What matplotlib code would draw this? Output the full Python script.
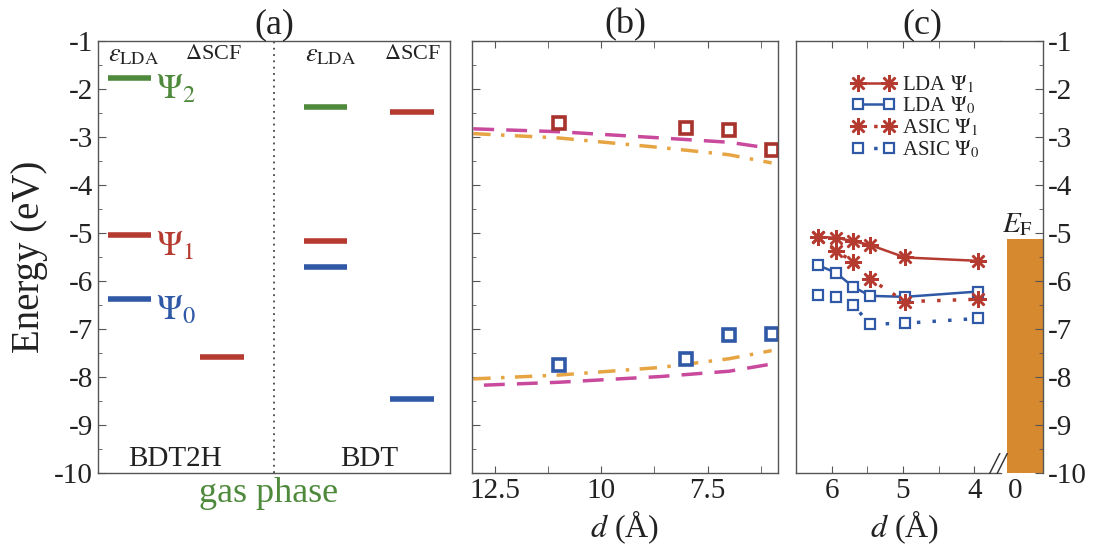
import numpy as np
import matplotlib
matplotlib.use("Agg")
import matplotlib.pyplot as plt
from matplotlib.ticker import MultipleLocator, FixedLocator, FuncFormatter

plt.rcParams['font.family'] = ['Liberation Serif', 'DejaVu Serif']
plt.rcParams['mathtext.fontset'] = 'stix'
plt.rcParams['axes.unicode_minus'] = False

# panel (a): gas phase levels, column 0/1 = BDT2H eps_LDA / dSCF, 2/3 = BDT eps_LDA / dSCF
level_col = [0, 0, 0, 1, 2, 2, 2, 3, 3]
level_E = [-1.77, -5.05, -6.38, -7.58, -2.37, -5.16, -5.71, -2.49, -8.46]
level_state = [2, 1, 0, 1, 2, 1, 0, 1, 0]
col_titles = [r'$\varepsilon_{\rm LDA}$', r'$\Delta$SCF', r'$\varepsilon_{\rm LDA}$', r'$\Delta$SCF']
molecules = ['BDT2H', 'BDT']

# panel (b): Delta SCF vs distance
d_scf = [11.0, 8.0, 7.0, 6.0]
scf_psi1 = [-2.71, -2.82, -2.86, -3.27]
scf_psi0 = [-7.75, -7.63, -7.13, -7.10]
d_fit = [13.0, 11.0, 8.6, 7.0, 6.0]
d_fit_low = [12.75, 11.0, 8.6, 7.0, 6.0]
dash_up = [-2.83, -2.89, -3.02, -3.11, -3.24]
dashdot_up = [-2.93, -3.02, -3.22, -3.37, -3.54]
dash_low = [-8.17, -8.11, -7.99, -7.88, -7.73]
dashdot_low = [-8.04, -7.96, -7.80, -7.62, -7.45]

# panel (c): LDA / ASIC levels vs distance
d_c = [6.19, 5.94, 5.70, 5.46, 4.97, 3.95]
lda_psi1 = [-5.08, -5.10, -5.17, -5.25, -5.51, -5.58]
lda_psi0 = [-5.67, -5.83, -6.12, -6.31, -6.33, -6.22]
asic_psi1 = [-5.09, -5.37, -5.60, -5.96, -6.43, -6.38]
asic_psi0 = [-6.29, -6.33, -6.50, -6.90, -6.88, -6.78]
E_F = -5.13

green = '#4f8a3c'
red = '#b53a2f'
blue = '#2f59a6'
magenta = '#c94a9c'
orange = '#e6a443'
bar_col = '#d6892f'
spine_col = '#555555'
txt_col = '#222222'
state_col = {0: blue, 1: red, 2: green}

fig = plt.figure(figsize=(11, 5.5), dpi=100)
bot, hgt = 0.14, 0.7855
ax_a = fig.add_axes([97.7/1100, bot, 352.3/1100, hgt])
ax_b = fig.add_axes([472/1100, bot, 306/1100, hgt])
ax_c = fig.add_axes([796/1100, bot, 205/1100, hgt])
ax_ef = fig.add_axes([1001/1100, bot, 42/1100, hgt])

for ax in (ax_a, ax_b, ax_c, ax_ef):
    ax.set_ylim(-10, -1)
    for s in ax.spines.values():
        s.set_color(spine_col)
        s.set_linewidth(1.0)
    ax.tick_params(which='both', direction='in', colors=spine_col, labelcolor=txt_col, labelsize=21)
    ax.tick_params(which='major', length=6)
    ax.tick_params(which='minor', length=3)

# ---- (a)
col_pos = [0.09, 0.353, 0.647, 0.893]
title_pos = [0.103, 0.328, 0.66, 0.894]
half_w = 0.062
ax_a.set_xlim(0, 1)
for c, e, st in zip(level_col, level_E, level_state):
    ax_a.hlines(e, col_pos[c] - half_w, col_pos[c] + half_w, color=state_col[st], lw=4)
ax_a.axvline(0.5, color='#444444', ls=(0, (1, 2.5)), lw=1.3)
for c, t in enumerate(col_titles):
    ax_a.text(title_pos[c], -1.08, t, ha='center', va='top',
              fontsize=19 if c % 2 == 0 else 16, color=txt_col)
for st, e in [(2, -1.77), (1, -5.05), (0, -6.38)]:
    ax_a.text(0.165, e + 0.1, r'$\Psi_{%d}$' % st, color=state_col[st], fontsize=25, va='top', ha='left')
ax_a.text(0.22, -9.97, molecules[0], ha='center', va='bottom', fontsize=21, color=txt_col)
ax_a.text(0.77, -9.97, molecules[1], ha='center', va='bottom', fontsize=21, color=txt_col)
ax_a.text(0.485, -0.01, 'gas phase', transform=ax_a.transAxes, ha='center', va='top',
          fontsize=26, color=green)
ax_a.set_xticks([])
ax_a.yaxis.set_major_locator(MultipleLocator(1))
ax_a.yaxis.set_minor_locator(MultipleLocator(0.5))
ax_a.yaxis.set_major_formatter(FuncFormatter(lambda v, p: '%d' % v))
ax_a.set_ylabel('Energy (eV)', fontsize=28, labelpad=4, color=txt_col)
ax_a.set_title('(a)', fontsize=26, pad=2, color=txt_col)

# ---- (b)
ax_b.set_xlim(13.03, 5.85)
ax_b.plot(d_fit, dash_up, color=magenta, lw=2.5, ls=(0, (6, 3.5)))
ax_b.plot(d_fit_low, dash_low, color=magenta, lw=2.5, ls=(0, (6, 3.5)))
ax_b.plot(d_fit, dashdot_up, color=orange, lw=2.5, ls=(0, (5, 3, 1, 3)))
ax_b.plot(d_fit, dashdot_low, color=orange, lw=2.5, ls=(0, (5, 3, 1, 3)))
ax_b.plot(d_scf, scf_psi1, ls='none', marker='s', ms=9, mfc='white', mec='#a8322c', mew=2.6)
ax_b.plot(d_scf, scf_psi0, ls='none', marker='s', ms=9, mfc='white', mec=blue, mew=2.6)
ax_b.xaxis.set_major_locator(FixedLocator([12.5, 10, 7.5]))
ax_b.xaxis.set_minor_locator(MultipleLocator(1.25))
ax_b.xaxis.set_major_formatter(FuncFormatter(lambda v, p: '%g' % v))
ax_b.tick_params(axis='x', which='both', top=True, length=5)
ax_b.yaxis.set_major_locator(MultipleLocator(1))
ax_b.yaxis.set_minor_locator(MultipleLocator(0.5))
ax_b.tick_params(axis='y', labelleft=False)
ax_b.set_xlabel(r'$d$ (Å)', fontsize=23, color=txt_col)
ax_b.xaxis.set_label_coords(0.5, -0.082)
ax_b.set_title('(b)', fontsize=26, pad=2, color=txt_col)

# ---- (c)
ax_c.set_xlim(6.5, 6.5 - 205/71.3)
ax_c.plot(d_c, lda_psi1, color=red, lw=1.8, marker=(8, 2, 0), ms=12, mew=1.8, label=r'LDA $\Psi_1$')
ax_c.plot(d_c, lda_psi0, color=blue, lw=1.8, marker='s', ms=7, mfc='white', mew=1.6,
          label=r'LDA $\Psi_0$')
ax_c.plot(d_c, asic_psi1, color=red, lw=2.5, ls=(0, (1, 3.5)), marker=(8, 2, 0), ms=12, mew=1.8,
          label=r'ASIC $\Psi_1$')
ax_c.plot(d_c, asic_psi0, color=blue, lw=2.5, ls=(0, (1, 3.5)), marker='s', ms=7, mfc='white',
          mew=1.6, label=r'ASIC $\Psi_0$')
leg = ax_c.legend(loc='upper left', bbox_to_anchor=(0.27, 0.925), frameon=False, fontsize=15,
                  numpoints=2, handlelength=2.1, handletextpad=0.35, labelspacing=0.0,
                  borderaxespad=0, borderpad=0)
for t in leg.get_texts():
    t.set_color(txt_col)
ax_c.xaxis.set_major_locator(MultipleLocator(1))
ax_c.xaxis.set_minor_locator(MultipleLocator(0.5))
ax_c.xaxis.set_major_formatter(FuncFormatter(lambda v, p: '%d' % v))
ax_c.tick_params(axis='x', which='both', top=True, length=5)
ax_c.tick_params(axis='y', which='both', left=False, labelleft=False)
ax_c.spines['right'].set_visible(False)
ax_c.set_xlabel(r'$d$ (Å)', fontsize=23, color=txt_col)
ax_c.xaxis.set_label_coords((905 - 796)/205, -0.082)
ax_c.set_title('(c)', fontsize=26, pad=2, x=(922 - 796)/205, color=txt_col)

ax_ef.set_xlim(-1, 2)
ax_ef.bar(-0.6, E_F - (-10), bottom=-10, width=2.6, align='edge', color=bar_col, lw=0)
ax_ef.text(0.2, E_F + 0.02, r'$E_{\rm F}$', ha='center', va='bottom', fontsize=21, color=txt_col)
ax_ef.spines['left'].set_visible(False)
ax_ef.spines['bottom'].set_visible(False)
ax_ef.set_xticks([0])
ax_ef.xaxis.set_major_formatter(FuncFormatter(lambda v, p: '%d' % v))
ax_ef.tick_params(axis='x', length=0)
ax_ef.yaxis.tick_right()
ax_ef.yaxis.set_major_locator(MultipleLocator(1))
ax_ef.yaxis.set_minor_locator(MultipleLocator(0.5))
ax_ef.yaxis.set_major_formatter(FuncFormatter(lambda v, p: '%d' % v))
ax_ef.tick_params(axis='y', which='both', left=False, right=True)

# axis break marks
fig.text(998/1100, 1 - 466/550, '//', ha='center', va='center', fontsize=22, color='#333333',
         style='italic')

fig.savefig('out.png', dpi=100)
